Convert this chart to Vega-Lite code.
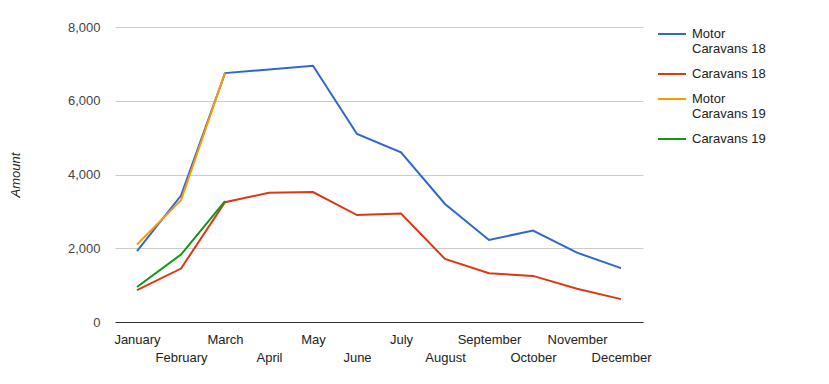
{
  "$schema": "https://vega.github.io/schema/vega-lite/v6.json",
  "autosize": "none",
  "width": 528,
  "height": 295,
  "padding": {"left": 115, "top": 27, "right": 186, "bottom": 62},
  "background": "white",
  "config": {
    "font": "Liberation Sans",
    "view": {"stroke": null},
    "axis": {"labelFont": "Liberation Sans", "labelFontSize": 13, "labelColor": "#444444", "titleFont": "Liberation Sans"}
  },
  "data": {
    "values": [
      {"month": "January", "series": "Motor Caravans 18", "amount": 1920},
      {"month": "February", "series": "Motor Caravans 18", "amount": 3430},
      {"month": "March", "series": "Motor Caravans 18", "amount": 6750},
      {"month": "April", "series": "Motor Caravans 18", "amount": 6850},
      {"month": "May", "series": "Motor Caravans 18", "amount": 6950},
      {"month": "June", "series": "Motor Caravans 18", "amount": 5100},
      {"month": "July", "series": "Motor Caravans 18", "amount": 4600},
      {"month": "August", "series": "Motor Caravans 18", "amount": 3200},
      {"month": "September", "series": "Motor Caravans 18", "amount": 2225},
      {"month": "October", "series": "Motor Caravans 18", "amount": 2480},
      {"month": "November", "series": "Motor Caravans 18", "amount": 1880},
      {"month": "December", "series": "Motor Caravans 18", "amount": 1460},
      {"month": "January", "series": "Caravans 18", "amount": 865},
      {"month": "February", "series": "Caravans 18", "amount": 1450},
      {"month": "March", "series": "Caravans 18", "amount": 3250},
      {"month": "April", "series": "Caravans 18", "amount": 3505},
      {"month": "May", "series": "Caravans 18", "amount": 3525},
      {"month": "June", "series": "Caravans 18", "amount": 2900},
      {"month": "July", "series": "Caravans 18", "amount": 2940},
      {"month": "August", "series": "Caravans 18", "amount": 1710},
      {"month": "September", "series": "Caravans 18", "amount": 1320},
      {"month": "October", "series": "Caravans 18", "amount": 1250},
      {"month": "November", "series": "Caravans 18", "amount": 900},
      {"month": "December", "series": "Caravans 18", "amount": 620},
      {"month": "January", "series": "Motor Caravans 19", "amount": 2100},
      {"month": "February", "series": "Motor Caravans 19", "amount": 3300},
      {"month": "March", "series": "Motor Caravans 19", "amount": 6760},
      {"month": "January", "series": "Caravans 19", "amount": 950},
      {"month": "February", "series": "Caravans 19", "amount": 1830},
      {"month": "March", "series": "Caravans 19", "amount": 3280}
    ]
  },
  "mark": {"type": "line", "strokeWidth": 2},
  "encoding": {
    "x": {
      "field": "month",
      "type": "ordinal",
      "sort": ["January","February","March","April","May","June","July","August","September","October","November","December"],
      "scale": {"type": "point", "padding": 0.5},
      "axis": {
        "title": null,
        "ticks": false,
        "grid": false,
        "domainColor": "#333333",
        "domainWidth": 1,
        "labelPadding": 11,
        "labelLineHeight": 18,
        "labelAngle": 0,
        "labelColor": "#222222",
        "labelExpr": "indexof(['January','February','March','April','May','June','July','August','September','October','November','December'], datum.value) % 2 == 1 ? ['', datum.label] : datum.label"
      }
    },
    "y": {
      "field": "amount",
      "type": "quantitative",
      "scale": {"domain": [0, 8000], "nice": false},
      "axis": {
        "title": "Amount",
        "titleFontStyle": "italic",
        "titleFontWeight": "normal",
        "titleFontSize": 13,
        "titleColor": "#222222",
        "titleX": -100,
        "titleY": 147.5,
        "titleAngle": -90,
        "titleAlign": "center",
        "titleBaseline": "middle",
        "values": [0, 2000, 4000, 6000, 8000],
        "format": ",d",
        "domain": false,
        "ticks": false,
        "gridColor": "#cccccc",
        "labelPadding": 15
      }
    },
    "color": {
      "field": "series",
      "type": "nominal",
      "scale": {
        "domain": ["Motor Caravans 18", "Caravans 18", "Motor Caravans 19", "Caravans 19"],
        "range": ["#3366cc", "#dc3912", "#ff9900", "#109618"]
      },
      "legend": {
        "title": null,
        "orient": "none",
        "legendX": 542,
        "legendY": -8,
        "padding": 0,
        "symbolType": "stroke",
        "symbolSize": 784,
        "symbolStrokeWidth": 2,
        "labelFont": "Liberation Sans",
        "labelFontSize": 13,
        "labelColor": "#222222",
        "labelLineHeight": 16.5,
        "labelOffset": 5,
        "rowPadding": 3,
        "labelExpr": "indexof(datum.label, 'Motor ') == 0 ? ['Motor', substring(datum.label, 6)] : datum.label"
      }
    }
  }
}
